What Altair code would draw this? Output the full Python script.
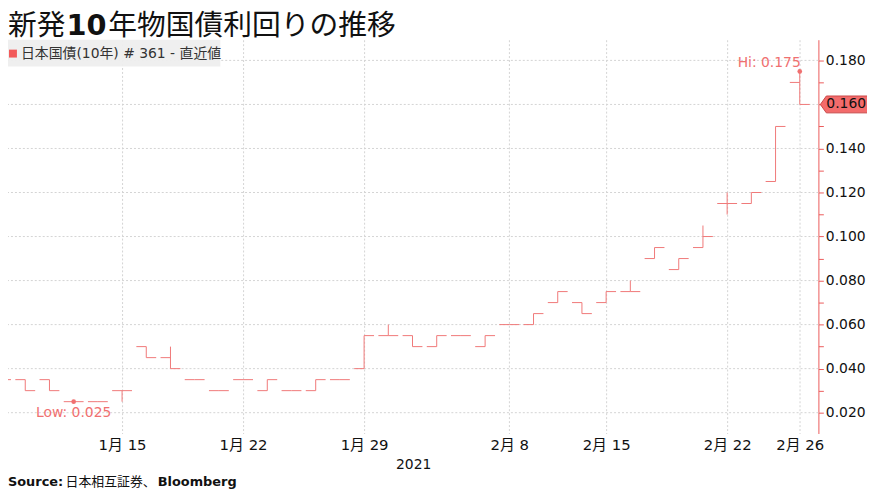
import altair as alt
import pandas as pd

# ---------------- data ----------------
dates = ["1/7", "1/8", "1/12", "1/13", "1/14", "1/15", "1/18", "1/19", "1/20", "1/21",
         "1/22", "1/25", "1/26", "1/27", "1/28", "1/29", "2/1", "2/2", "2/3", "2/4",
         "2/5", "2/8", "2/9", "2/10", "2/12", "2/15", "2/16", "2/17", "2/18", "2/19",
         "2/22", "2/24", "2/25", "2/26"]
open_ = [0.030, 0.035, 0.035, 0.025, 0.025, 0.030, 0.050, 0.045, 0.035, 0.030,
         0.035, 0.030, 0.030, 0.030, 0.035, 0.040, 0.055, 0.055, 0.050, 0.055,
         0.050, 0.060, 0.060, 0.070, 0.070, 0.070, 0.075, 0.090, 0.085, 0.095,
         0.115, 0.115, 0.125, 0.170]
high = [0.035, 0.035, 0.035, 0.025, 0.025, 0.030, 0.050, 0.050, 0.035, 0.030,
        0.035, 0.035, 0.030, 0.035, 0.035, 0.055, 0.060, 0.055, 0.055, 0.055,
        0.055, 0.060, 0.065, 0.075, 0.070, 0.075, 0.080, 0.095, 0.090, 0.105,
        0.120, 0.120, 0.150, 0.175]
low = [0.030, 0.030, 0.030, 0.025, 0.025, 0.025, 0.045, 0.040, 0.035, 0.030,
       0.035, 0.030, 0.030, 0.030, 0.035, 0.040, 0.055, 0.050, 0.050, 0.055,
       0.050, 0.060, 0.060, 0.070, 0.065, 0.070, 0.075, 0.090, 0.085, 0.095,
       0.110, 0.115, 0.125, 0.160]
close = [0.035, 0.030, 0.030, 0.025, 0.025, 0.030, 0.045, 0.040, 0.035, 0.030,
         0.035, 0.035, 0.030, 0.035, 0.035, 0.055, 0.055, 0.050, 0.055, 0.055,
         0.055, 0.060, 0.065, 0.075, 0.065, 0.075, 0.075, 0.095, 0.090, 0.100,
         0.115, 0.120, 0.150, 0.160]

x_tick_dates = ["1/15", "1/22", "1/29", "2/8", "2/15", "2/22", "2/26"]
x_tick_labels = ["1月 15", "1月 22", "1月 29", "2月 8", "2月 15", "2月 22", "2月 26"]
y_ticks = [0.02, 0.03, 0.04, 0.05, 0.06, 0.07, 0.08, 0.09, 0.10, 0.11, 0.12,
           0.13, 0.14, 0.15, 0.16, 0.17, 0.18]
y_grid = [0.02, 0.04, 0.06, 0.08, 0.10, 0.12, 0.14, 0.16, 0.18]

title_parts = ["新発", "10", "年物国債利回りの推移"]
legend_label = "日本国債(10年) # 361 - 直近値"
source_parts = ["Source:", "日本相互証券、", "Bloomberg"]
year_label = "2021"

# ---------------- styling ----------------
W, H = 817, 397
HALF = 0.41
BAR = "#f07878"
RED = "#ec5b5b"
ANN = "#f07070"
GRID = "#d3d3d3"
F_LAT = "DejaVu Sans"
F_CJK = "Noto Sans CJK JP"
F_MIX = "DejaVu Sans, Noto Sans CJK JP"

n = len(dates)
df = pd.DataFrame({"date": dates, "i": list(range(n)), "open": open_,
                   "high": high, "low": low, "close": close})
tick_idx = [dates.index(d) for d in x_tick_dates]

xscale = alt.Scale(domain=[0.287, 33.77], nice=False, zero=False)
yscale = alt.Scale(domain=[0.01054, 0.1894], nice=False, zero=False)

label_expr = ("[" + ",".join("'" + t + "'" for t in x_tick_labels) + "][indexof(["
              + ",".join(str(v) for v in tick_idx) + "], datum.value)]")

xaxis = alt.Axis(values=tick_idx, labelExpr=label_expr, grid=True, gridDash=[2, 2],
                 gridColor=GRID, domain=False, ticks=False, tickSize=0,
                 labelFontSize=15, labelFont=F_MIX, labelColor="#111111",
                 labelPadding=4, labelOverlap=False, labelFlush=False,
                 title=year_label, titleFontSize=14, titleFont=F_LAT,
                 titleFontWeight="normal", titleColor="#111111", titlePadding=5)
yaxis = alt.Axis(orient="right", values=y_ticks,
                 labelExpr="abs(round(datum.value*1000) % 20) == 0 ? format(datum.value, '.3f') : ''",
                 grid=False, domainColor=RED, domainWidth=1, tickColor=RED, tickSize=5,
                 tickWidth=1, labelFontSize=14, labelFont=F_LAT, labelColor="#111111",
                 labelPadding=2, labelOverlap=False, labelFlush=False, title="")


def X(f):
    return alt.X(f, type="quantitative", scale=xscale, axis=xaxis)


def Y(f):
    return alt.Y(f, type="quantitative", scale=yscale, axis=yaxis)


one = pd.DataFrame({"a": [0]})

hgrid = alt.Chart(pd.DataFrame({"g": y_grid})).mark_rule(
    color=GRID, strokeDash=[2, 2], strokeWidth=1).encode(y=Y("g"))

bars = alt.Chart(df).mark_rule(color=BAR, strokeWidth=1, clip=True).encode(
    x=X("i"), y=Y("low"), y2="high:Q")
opens = alt.Chart(df).transform_calculate(xo=f"datum.i - {HALF}").mark_rule(
    color=BAR, strokeWidth=1, clip=True).encode(x=X("xo"), x2="i:Q", y=Y("open"))
closes = alt.Chart(df).transform_calculate(xc=f"datum.i + {HALF}").mark_rule(
    color=BAR, strokeWidth=1, clip=True).encode(x=X("i"), x2="xc:Q", y=Y("close"))

hi_i = high.index(max(high))
lo_i = low.index(min(low))
hl = pd.DataFrame({"i": [hi_i, lo_i], "v": [high[hi_i], low[lo_i]],
                   "label": [f"Hi: {high[hi_i]:.3f}", f"Low: {low[lo_i]:.3f}"]})
dots = alt.Chart(hl).mark_circle(size=22, color=ANN, opacity=1).encode(x=X("i"), y=Y("v"))
hi_text = alt.Chart(hl.iloc[[0]]).mark_text(
    align="right", baseline="alphabetic", dy=-4, dx=1, fontSize=14, font=F_LAT,
    color=ANN).encode(x=X("i"), y=Y("v"), text="label:N")
lo_text = alt.Chart(hl.iloc[[1]]).mark_text(
    align="center", baseline="alphabetic", dy=15, fontSize=14, font=F_LAT,
    color=ANN).encode(x=X("i"), y=Y("v"), text="label:N")

legend_rect = alt.Chart(one).mark_rect(color="#eeeeee", opacity=0.95).encode(
    x=alt.value(0), x2=alt.value(214), y=alt.value(0), y2=alt.value(27))
legend_sq = alt.Chart(one).mark_rect(color="#f25a5a").encode(
    x=alt.value(1), x2=alt.value(9), y=alt.value(10), y2=alt.value(18))
legend_txt = alt.Chart(one).mark_text(
    text=legend_label, align="left", baseline="middle", fontSize=14, font=F_MIX,
    color="#333333").encode(x=alt.value(13), y=alt.value(14))

TY = -4.5
t1 = alt.Chart(one).mark_text(text=title_parts[0], align="left", baseline="alphabetic",
                              fontSize=29, font=F_CJK, color="#111111").encode(
    x=alt.value(0), y=alt.value(TY))
t2 = alt.Chart(one).mark_text(text=title_parts[1], align="left", baseline="alphabetic",
                              fontSize=29, font=F_LAT, fontWeight="bold",
                              color="#111111").encode(x=alt.value(59), y=alt.value(TY))
t3 = alt.Chart(one).mark_text(text=title_parts[2], align="left", baseline="alphabetic",
                              fontSize=29, font=F_CJK, color="#111111").encode(
    x=alt.value(101), y=alt.value(TY))

SY = H + 53
s1 = alt.Chart(one).mark_text(text=source_parts[0], align="left", baseline="alphabetic",
                              fontSize=13, font=F_LAT, fontWeight="bold",
                              color="#111111").encode(x=alt.value(0), y=alt.value(SY))
s2 = alt.Chart(one).mark_text(text=source_parts[1], align="left", baseline="alphabetic",
                              fontSize=13, font=F_CJK, color="#111111").encode(
    x=alt.value(58), y=alt.value(SY))
s3 = alt.Chart(one).mark_text(text=source_parts[2], align="left", baseline="alphabetic",
                              fontSize=13, font=F_LAT, fontWeight="bold",
                              color="#111111").encode(x=alt.value(151), y=alt.value(SY))

last = pd.DataFrame({"v": [close[-1]], "label": [f"{close[-1]:.3f}"]})
box_path = "M -1 0 L -0.76 -0.34 L 1 -0.34 L 1 0.34 L -0.76 0.34 Z"
box = alt.Chart(last).mark_point(shape=box_path, size=2500, filled=True, fill="#f36b6b",
                                 stroke="#c84848", strokeWidth=1, opacity=1).encode(
    x=alt.value(W + 27), y=Y("v"))
box_txt = alt.Chart(last).mark_text(align="left", baseline="middle", fontSize=14,
                                    font=F_LAT, color="#111111").encode(
    x=alt.value(W + 8), y=Y("v"), text="label:N")

chart = alt.layer(
    hgrid, bars, opens, closes, dots, hi_text, lo_text,
    legend_rect, legend_sq, legend_txt, t1, t2, t3, s1, s2, s3, box, box_txt
).properties(
    width=W, height=H,
    background="white",
    autosize=alt.AutoSizeParams(type="none"),
    padding={"left": 0, "top": 30, "right": 49, "bottom": 56},
).configure_view(stroke=None)

chart.save("out.html", embed_options={"renderer": "svg", "actions": False})
